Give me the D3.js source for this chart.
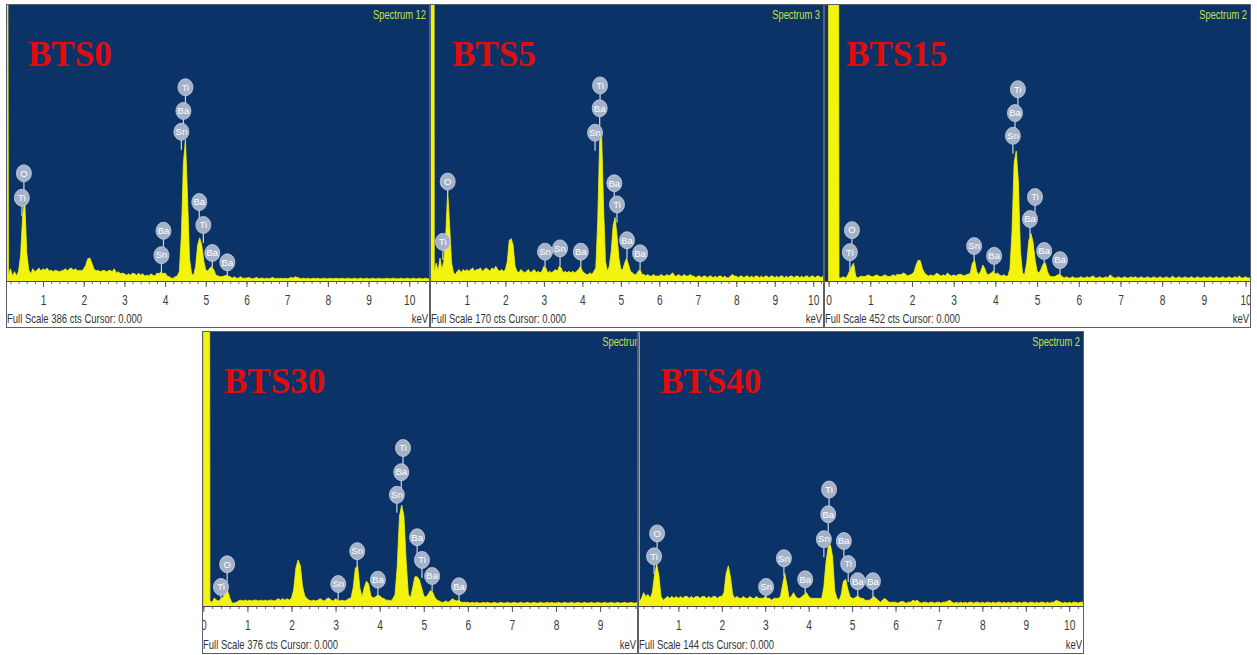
<!DOCTYPE html>
<html>
<head>
<meta charset="utf-8">
<script src="https://cdn.jsdelivr.net/npm/d3@7"></script>
<style>
  body { margin: 0; background: #ffffff; }
  svg { display: block; }
</style>
</head>
<body>
<svg id="chart" width="1257" height="655"></svg>
<script>
// ---- EDS spectra of the BaTi(1-x)SnxO3 series ----
const CHANNEL_KEV = 0.05;            // energy width of one channel
const sampleNames = ["BTS0", "BTS5", "BTS15", "BTS30", "BTS40"];
const spectrumTitles = ["Spectrum 12", "Spectrum 3", "Spectrum 2", "Spectrum 2", "Spectrum 2"];
const fullScaleCts = [386, 170, 452, 376, 144];
const tickKeV = [0, 1, 2, 3, 4, 5, 6, 7, 8, 9, 10];

// counts per channel, channel i = i * 0.05 keV
const countsBTS0 = [
  3000,3000,1500,8,17,7,13,7,14,36,92,113,39,15,10,17,13,15,18,14,
  17,15,18,14,15,13,15,14,13,14,15,17,14,17,18,15,17,14,15,14,
  17,22,31,32,25,17,14,15,13,14,15,13,14,15,13,17,11,13,10,11,
  10,8,10,8,11,10,8,11,8,10,7,8,7,10,8,7,11,10,13,10,
  11,7,6,4,4,6,7,13,63,164,197,118,31,10,8,20,50,60,50,28,
  15,14,18,20,15,8,7,6,6,7,8,7,6,4,6,4,4,6,4,4,
  4,5,4,3,4,5,3,4,4,3, 4,3,4,5,3,4,3,4,3,4,
  3,4,5,4,6,5,4,3,4,3, 4,3,3,4,3,4,3,3,4,3,
  3,4,3,3,4,3,3,4,3,3, 4,3,3,4,3,3,4,3,3,4,
  3,3,4,3,3,4,3,3,3,4, 3,3,4,3,3,3,4,3,3,4,
  3,3,4,3,3,4,3,3,4,3,3
];
const countsBTS5 = [
  3000,3000,3000,5,11,6,14,7,12,28,55,34,11,5,4,6,7,5,7,6,
  7,6,7,8,6,7,7,8,6,7,8,7,6,8,7,9,7,6,7,6,
  7,12,25,26,22,9,6,5,7,6,5,6,7,5,6,7,5,6,5,6,
  9,8,5,6,5,6,7,6,9,8,5,6,5,6,5,6,5,6,7,9,
  6,5,4,4,5,4,6,8,37,86,90,46,12,6,9,18,34,39,28,14,
  7,7,11,14,10,6,5,4,4,6,7,4,4,3,4,3,3,4,3,3,
  3,4,3,3,4,3,4,5,3,3, 4,3,3,4,3,3,4,3,3,2,
  3,3,2,3,3,2,3,3,2,3, 2,3,3,2,3,2,2,3,4,3,
  3,2,3,3,2,3,3,2,3,2, 3,3,2,3,2,3,3,2,3,3,
  2,3,2,3,3,2,3,2,3,3, 2,3,3,2,3,2,3,3,2,3,
  3,2,3,3,2,3,3
];
const countsBTS15 = [
  3000,3000,3000,3000,3000,5,5,7,5,8,16,23,29,8,5,7,8,7,8,10,
  8,7,8,10,8,7,8,10,8,7,8,10,8,11,10,11,13,11,8,10,
  11,15,26,34,33,20,13,10,8,10,8,10,13,10,8,10,8,13,10,8,
  10,8,10,11,10,8,10,11,13,29,34,16,10,16,26,20,10,11,13,16,
  11,13,10,8,10,8,8,20,82,193,212,163,49,13,10,29,65,78,65,36,
  16,13,20,28,29,15,8,7,7,8,10,11,7,5,7,5,5,7,5,5,
  5,7,5,5,7,5,7,8,5,5, 7,5,5,7,5,10,7,5,5,7,
  5,5,7,5,5,7,5,7,5,5, 7,5,5,7,5,5,7,5,5,7,
  5,5,7,5,5,8,5,5,7,5, 5,7,5,5,7,5,5,7,5,5,
  7,5,5,7,5,5,7,5,5,7, 5,5,7,5,5,7,5,8,5,5,
  7,5,5,7,5
];
const countsBTS30 = [
  3000,3000,3000,7,5,11,8,7,10,12,19,21,11,4,4,5,7,8,7,8,
  7,8,7,8,8,7,8,7,8,7,8,8,7,8,10,8,10,8,10,8,
  11,22,52,63,55,27,14,10,8,7,8,7,8,10,8,7,10,11,8,7,
  10,8,7,8,7,8,10,11,25,52,55,25,12,25,34,30,14,11,12,15,
  14,11,10,8,8,7,10,16,55,123,138,123,62,16,11,25,40,40,36,25,
  14,12,16,21,19,12,8,7,5,5,7,5,7,10,8,7,8,5,5,5,
  5,4,5,4,5,4,4,5,4,5, 4,4,5,4,4,5,4,4,5,4,
  4,5,4,4,5,4,4,5,4,4, 5,4,4,5,4,4,5,4,5,4,
  4,5,4,4,5,4,4,5,4,4, 5,4,4,5,4,4,5,4,4,5,
  4,4,5,4,4,5,4,4,5,4, 4,5,4,4,5,4,4,5
];
const countsBTS40 = [
  3000,3000,2,4,7,5,6,4,7,16,22,16,5,3,4,5,4,5,4,5,
  4,5,4,5,5,4,5,4,5,5,4,5,5,4,5,4,5,5,4,5,
  5,7,17,21,15,6,4,5,4,4,5,4,4,5,4,4,5,4,4,4,
  5,4,4,3,4,4,4,5,11,17,11,4,5,7,5,4,4,5,6,7,
  5,4,4,4,4,4,4,10,23,31,32,26,8,4,3,6,13,14,9,5,
  4,4,5,5,4,4,3,3,3,4,5,4,3,2,3,4,3,2,2,2,
  2,1.5,2,2.5,2,1.5,2,2,3,2.5, 3,2,1.5,2,2,1.5,2,2,1.5,2,
  2,1.5,2,2,2.5,3,2,1.5,2,1.5, 2,1.5,2,1.5,2,2,1.5,2,2,1.5,
  2,1.5,2,2,1.5,2,1.5,2,2,1.5, 2,1.5,2,1.5,2,2,1.5,2,1.5,2,
  2,1.5,2,2,1.5,2,1.5,2,2,1.5, 2,1.5,2,2,3,2.5,2,1.5,2,1.5,
  2,1.5,2,2,1.5,2,2,1.5
];

// element markers: [symbol, keV, label height in counts]
const markersBTS0 = [
  ["Ti",0.48,116],["O",0.53,150],
  ["Sn",3.91,36],["Ba",3.96,70],
  ["Sn",4.40,208],["Ba",4.45,237],["Ti",4.50,270],
  ["Ti",4.94,78],["Ba",4.84,110],["Ba",5.16,39],["Ba",5.53,26]
];
const markersBTS5 = [
  ["Ti",0.375,24],["O",0.50,61],
  ["Sn",3.03,18],["Sn",3.42,20],["Ba",3.96,18],
  ["Sn",4.33,91],["Ba",4.45,106],["Ti",4.46,120],
  ["Ti",4.90,47],["Ba",4.83,60],["Ba",5.16,25],["Ba",5.50,17]
];
const markersBTS15 = [
  ["Ti",0.51,47],["O",0.56,83],
  ["Sn",3.49,57],["Ba",3.97,41],
  ["Sn",4.42,237],["Ba",4.47,274],["Ti",4.54,313],
  ["Ba",4.83,101],["Ti",4.95,137],["Ba",5.17,49],["Ba",5.55,34]
];
const markersBTS30 = [
  ["Ti",0.40,26],["O",0.54,57],
  ["Sn",3.06,30],["Sn",3.49,75],["Ba",3.96,36],
  ["Sn",4.39,152],["Ba",4.49,183],["Ti",4.53,216],
  ["Ti",4.96,63],["Ba",4.85,94],["Ba",5.19,41],["Ba",5.80,27]
];
const markersBTS40 = [
  ["Ti",0.44,26],["O",0.51,38],
  ["Sn",3.02,10],["Sn",3.43,25],["Ba",3.92,14],
  ["Sn",4.35,35],["Ba",4.45,48],["Ti",4.47,61],
  ["Ti",4.91,22],["Ba",4.81,34],["Ba",5.13,13],["Ba",5.48,13]
];

const spectra = [countsBTS0, countsBTS5, countsBTS15, countsBTS30, countsBTS40];
const markerSets = [markersBTS0, markersBTS5, markersBTS15, markersBTS30, markersBTS40];

// ---- panel geometry (pixels) and visible energy window of each screen grab ----
const layout = [
  { left: 6,   right: 430,  top: 4,   base: 281, bottom: 327, kev: [0.09, 10.51], titleDx: -4 },
  { left: 430, right: 824,  top: 4,   base: 281, bottom: 327, kev: [0.04, 10.28], titleDx: -4 },
  { left: 824, right: 1251, top: 4,   base: 281, bottom: 327, kev: [-0.11, 10.13], titleDx: -4 },
  { left: 202, right: 638,  top: 331, base: 606, bottom: 653, kev: [-0.03, 9.86], titleDx: 12 },
  { left: 638, right: 1084, top: 331, base: 606, bottom: 653, kev: [0.07, 10.34], titleDx: -4 }
];

const BG = "#0c3367";
const PEAK = "#f3f30d";
const CONDENSE = 0.73;

const svg = d3.select("#chart");
const defs = svg.append("defs");

function countAt(counts, kev) {
  const pos = kev / CHANNEL_KEV;
  const i0 = Math.max(0, Math.min(counts.length - 1, Math.floor(pos)));
  const i1 = Math.min(counts.length - 1, i0 + 1);
  const t = pos - i0;
  return counts[i0] * (1 - t) + counts[i1] * t;
}

layout.forEach((L, p) => {
  const counts = spectra[p];
  const data = counts.map((c, i) => ({ kev: i * CHANNEL_KEV, cts: c }));

  const x = d3.scaleLinear().domain(L.kev).range([L.left, L.right]);
  const y = d3.scaleLinear().domain([0, fullScaleCts[p]]).range([L.base, L.top]);

  const panelClip = "panel-clip-" + p;
  defs.append("clipPath").attr("id", panelClip)
    .append("rect").attr("x", L.left).attr("y", L.top)
    .attr("width", L.right - L.left).attr("height", L.bottom - L.top);
  const plotClip = "plot-clip-" + p;
  defs.append("clipPath").attr("id", plotClip)
    .append("rect").attr("x", L.left).attr("y", L.top)
    .attr("width", L.right - L.left).attr("height", L.base - L.top);

  const g = svg.append("g").attr("clip-path", `url(#${panelClip})`);

  // plot background and axis strip
  g.append("rect").attr("x", L.left).attr("y", L.top)
    .attr("width", L.right - L.left).attr("height", L.base - L.top).attr("fill", BG);
  g.append("rect").attr("x", L.left).attr("y", L.base)
    .attr("width", L.right - L.left).attr("height", L.bottom - L.base).attr("fill", "#ffffff");

  // spectrum
  const area = d3.area()
    .x(d => x(d.kev))
    .y0(L.base)
    .y1(d => y(d.cts));
  g.append("path")
    .datum(data)
    .attr("clip-path", `url(#${plotClip})`)
    .attr("d", area)
    .attr("fill", PEAK)
    .attr("stroke", PEAK)
    .attr("stroke-width", 0.8)
    .attr("stroke-linejoin", "round");

  // title of the spectrum
  g.append("g")
    .attr("transform", `translate(${L.right + L.titleDx},${L.top + 15}) scale(${CONDENSE + 0.05},1)`)
    .append("text")
    .attr("text-anchor", "end")
    .attr("font-family", "Liberation Sans, Arial, sans-serif")
    .attr("font-size", 12)
    .attr("fill", "#c4e04a")
    .text(spectrumTitles[p]);

  // sample name
  g.append("text")
    .attr("x", L.left + 22)
    .attr("y", L.top + 62)
    .attr("font-family", "Liberation Serif, 'Times New Roman', serif")
    .attr("font-weight", "bold")
    .attr("font-size", 35)
    .attr("fill", "#e10c0c")
    .text(sampleNames[p]);

  // element markers: stems first, then the labelled balls
  const markers = markerSets[p];
  const mk = g.append("g").attr("class", "markers");
  mk.selectAll("line")
    .data(markers)
    .join("line")
    .attr("x1", d => x(d[1])).attr("x2", d => x(d[1]))
    .attr("y1", d => y(d[2]) + 7)
    .attr("y2", d => {
      const bottom = y(d[2]) + 8;
      const spec = y(countAt(counts, d[1]));
      return bottom + Math.max(3, Math.min(10, spec - bottom));
    })
    .attr("stroke", "#c9d3e2")
    .attr("stroke-width", 1.2);
  const ball = mk.selectAll("g.ball")
    .data(markers)
    .join("g")
    .attr("class", "ball")
    .attr("transform", d => `translate(${x(d[1])},${y(d[2])})`);
  ball.append("ellipse")
    .attr("rx", 7.5).attr("ry", 8.5)
    .attr("fill", "#a3b2c8")
    .attr("stroke", "#c8d2e1")
    .attr("stroke-width", 0.8);
  ball.append("text")
    .attr("text-anchor", "middle")
    .attr("dy", "0.35em")
    .attr("font-family", "Liberation Sans, Arial, sans-serif")
    .attr("font-size", 9.5)
    .attr("fill", "#ffffff")
    .text(d => d[0]);

  // energy axis
  const minorTicks = d3.range(Math.ceil(L.kev[0] * 5), Math.floor(L.kev[1] * 5) + 1).map(v => v / 5);
  const majorTicks = tickKeV.filter(v => v >= L.kev[0] && v <= L.kev[1]);

  const minorAxis = g.append("g")
    .attr("transform", `translate(0,${L.base})`)
    .call(d3.axisBottom(x).tickValues(minorTicks).tickSize(3).tickFormat(""));
  minorAxis.select(".domain").remove();
  minorAxis.selectAll("line").attr("stroke", "#6a6a6a");

  const majorAxis = g.append("g")
    .attr("transform", `translate(0,${L.base})`)
    .call(d3.axisBottom(x).tickValues(majorTicks).tickSize(6).tickPadding(8).tickFormat(d3.format("d")));
  majorAxis.select(".domain").remove();
  majorAxis.selectAll("line").attr("stroke", "#555555");
  majorAxis.selectAll("text")
    .attr("font-family", "Liberation Sans, Arial, sans-serif")
    .attr("font-size", 14)
    .attr("fill", "#3c3c3c")
    .attr("transform", `scale(${CONDENSE},1)`);

  g.append("line")
    .attr("x1", L.left).attr("x2", L.right)
    .attr("y1", L.base + 0.5).attr("y2", L.base + 0.5)
    .attr("stroke", "#4a4a4a").attr("stroke-width", 1);

  // status line
  g.append("g")
    .attr("transform", `translate(${L.left + 1},${L.bottom - 4}) scale(${CONDENSE},1)`)
    .append("text")
    .attr("font-family", "Liberation Sans, Arial, sans-serif")
    .attr("font-size", 13)
    .attr("fill", "#333333")
    .text(`Full Scale ${fullScaleCts[p]} cts Cursor: 0.000`);
  g.append("g")
    .attr("transform", `translate(${L.right - 2},${L.bottom - 4}) scale(${CONDENSE},1)`)
    .append("text")
    .attr("text-anchor", "end")
    .attr("font-family", "Liberation Sans, Arial, sans-serif")
    .attr("font-size", 13)
    .attr("fill", "#333333")
    .text("keV");

  // frame
  svg.append("rect")
    .attr("x", L.left + 0.5).attr("y", L.top + 0.5)
    .attr("width", L.right - L.left - 1).attr("height", L.bottom - L.top)
    .attr("fill", "none")
    .attr("stroke", "#5a5f6a")
    .attr("stroke-width", 1);
});
</script>
</body>
</html>
